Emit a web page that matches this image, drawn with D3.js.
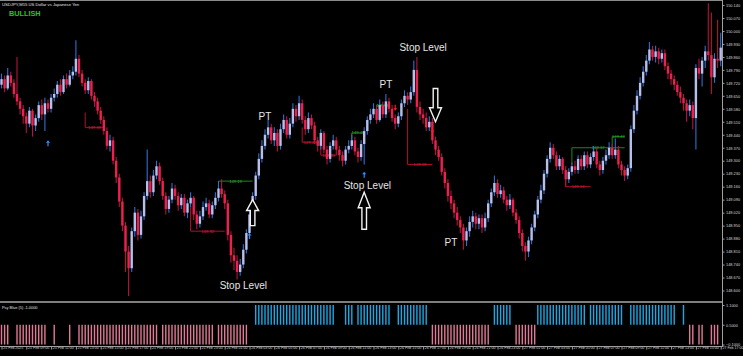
<!DOCTYPE html>
<html>
<head>
<meta charset="utf-8">
<script src="https://cdn.jsdelivr.net/npm/d3@7"></script>
<style>
  body { margin: 0; background: #000; }
  svg { display: block; }
</style>
</head>
<body>
<div id="chart"></div>
<script>
// USDJPY M15 bars, one value per bar
var opens = [
  149.71,149.74,149.69,149.76,149.72,149.66,149.62,149.58, 149.54,149.50,149.57,149.49,149.53,149.60,149.55,149.61,
  149.58,149.64,149.66,149.71,149.67,149.74,149.71,149.76, 149.78,149.85,149.77,149.72,149.68,149.73,149.65,149.62,
  149.57,149.52,149.46,149.38,149.41,149.30,149.21,149.08, 148.95,148.81,148.72,148.92,149.02,148.90,149.00,149.11,
  149.19,149.13,149.22,149.27,149.19,149.11,149.04,149.09, 149.15,149.11,149.06,149.10,149.02,149.07,149.10,149.01,
  148.96,149.00,149.05,149.07,149.01,149.06,149.10,149.15, 149.12,149.07,148.90,148.79,148.76,148.70,148.74,148.82,
  148.91,149.01,149.11,149.22,149.31,149.38,149.44,149.48, 149.41,149.45,149.38,149.47,149.52,149.44,149.50,149.58,
  149.54,149.61,149.52,149.47,149.53,149.49,149.41,149.38, 149.45,149.36,149.31,149.38,149.41,149.36,149.33,149.30,
  149.36,149.38,149.41,149.35,149.32,149.39,149.46,149.52, 149.55,149.58,149.52,149.60,149.55,149.62,149.58,149.53,
  149.50,149.54,149.61,149.65,149.63,149.67,149.79,149.59, 149.55,149.53,149.48,149.51,149.41,149.36,149.32,149.24,
  149.18,149.11,149.07,149.02,148.98,148.94,148.87,148.92, 148.97,149.00,148.96,148.99,148.94,148.99,149.07,149.13,
  149.18,149.12,149.14,149.09,149.06,149.09,149.02,148.98, 148.91,148.84,148.81,148.87,148.94,149.01,149.09,149.14,
  149.23,149.31,149.37,149.33,149.27,149.31,149.25,149.20, 149.24,149.27,149.25,149.31,149.27,149.33,149.28,149.32,
  149.35,149.28,149.25,149.30,149.33,149.37,149.33,149.36, 149.28,149.25,149.22,149.26,149.47,149.57,149.65,149.72,
  149.78,149.84,149.90,149.86,149.89,149.85,149.88,149.81, 149.77,149.74,149.71,149.67,149.64,149.61,149.57,149.60,
  149.53,149.80,149.77,149.84,149.89,149.87,149.75,149.85, 149.84
];
var highs = [
  149.77,149.76,149.80,149.78,149.74,149.86,149.64,149.60, 149.56,149.59,149.58,149.55,149.62,149.63,149.64,149.63,
  149.66,149.69,149.73,149.74,149.76,149.77,149.79,149.81, 149.95,149.87,149.79,149.74,149.75,149.74,149.67,149.64,
  149.59,149.54,149.48,149.44,149.43,149.32,149.23,149.10, 148.97,148.84,148.94,149.05,149.04,149.03,149.13,149.36,
  149.22,149.25,149.30,149.29,149.21,149.13,149.11,149.18, 149.17,149.13,149.12,149.12,149.09,149.13,149.11,149.03,
  149.03,149.08,149.10,149.09,149.08,149.13,149.19,149.20, 149.14,149.09,148.92,148.83,148.79,148.77,148.85,148.93,
  149.03,149.13,149.24,149.34,149.41,149.47,149.52,149.50, 149.48,149.47,149.50,149.55,149.54,149.53,149.61,149.60,
  149.65,149.63,149.54,149.56,149.55,149.51,149.43,149.47, 149.46,149.38,149.40,149.44,149.43,149.38,149.35,149.38,
  149.41,149.44,149.43,149.37,149.41,149.48,149.54,149.58, 149.61,149.60,149.63,149.62,149.66,149.64,149.60,149.55,
  149.56,149.63,149.68,149.67,149.70,149.84,149.86,149.62, 149.58,149.56,149.54,149.53,149.43,149.38,149.34,149.26,
  149.20,149.14,149.09,149.05,149.00,148.96,148.94,149.00, 149.03,149.02,149.01,149.01,149.02,149.09,149.15,149.22,
  149.20,149.17,149.16,149.11,149.12,149.10,149.04,149.00, 148.93,148.86,148.89,148.96,149.03,149.11,149.17,149.25,
  149.33,149.40,149.39,149.35,149.33,149.32,149.27,149.26, 149.29,149.30,149.33,149.33,149.35,149.35,149.34,149.38,
  149.37,149.30,149.32,149.36,149.40,149.39,149.42,149.38, 149.30,149.27,149.28,149.49,149.60,149.68,149.75,149.81,
  149.87,149.94,149.92,149.92,149.91,149.90,149.90,149.83, 149.79,149.76,149.73,149.70,149.66,149.63,149.63,149.62,
  149.82,149.85,149.86,149.92,150.15,150.10,149.88,150.06, 149.99
];
var lows = [
  149.69,149.67,149.68,149.70,149.64,149.60,149.55,149.50, 149.45,149.48,149.43,149.46,149.51,149.52,149.46,149.56,
  149.56,149.62,149.64,149.65,149.66,149.69,149.70,149.74, 149.76,149.75,149.70,149.66,149.66,149.63,149.59,149.55,
  149.50,149.44,149.36,149.35,149.28,149.18,149.05,148.92, 148.70,148.57,148.70,148.89,148.87,148.88,148.98,149.09,
  149.10,149.11,149.20,149.17,149.09,149.01,149.02,149.07, 149.09,149.03,149.04,149.00,148.99,149.05,148.98,148.93,
  148.94,148.98,149.03,148.99,148.99,149.04,149.08,149.10, 149.04,148.87,148.75,148.71,148.66,148.68,148.72,148.80,
  148.88,148.99,149.09,149.20,149.29,149.36,149.42,149.39, 149.38,149.35,149.36,149.45,149.42,149.42,149.48,149.51,
  149.52,149.50,149.44,149.45,149.47,149.39,149.35,149.36, 149.34,149.28,149.29,149.36,149.33,149.30,149.27,149.28,
  149.34,149.36,149.33,149.29,149.30,149.28,149.44,149.50, 149.53,149.50,149.51,149.53,149.53,149.56,149.51,149.47,
  149.48,149.52,149.59,149.60,149.61,149.65,149.56,149.52, 149.50,149.46,149.46,149.39,149.33,149.30,149.22,149.15,
  149.08,149.04,148.99,148.95,148.91,148.82,148.84,148.89, 148.94,148.93,148.93,148.91,148.92,148.97,149.05,149.11,
  149.10,149.10,149.07,149.03,149.04,149.00,148.96,148.88, 148.81,148.76,148.78,148.85,148.92,148.99,149.07,149.12,
  149.21,149.29,149.31,149.25,149.25,149.23,149.16,149.18, 149.22,149.23,149.23,149.25,149.25,149.26,149.26,149.30,
  149.26,149.22,149.23,149.28,149.31,149.31,149.31,149.26, 149.22,149.19,149.20,149.24,149.45,149.55,149.63,149.70,
  149.76,149.82,149.84,149.83,149.82,149.83,149.79,149.74, 149.71,149.68,149.65,149.61,149.57,149.51,149.54,149.47,
  149.36,149.74,149.70,149.80,149.84,149.66,149.72,149.80, 149.81
];
var closes = [
  149.74,149.69,149.76,149.72,149.66,149.62,149.58,149.54, 149.50,149.57,149.49,149.53,149.60,149.55,149.61,149.58,
  149.64,149.66,149.71,149.67,149.74,149.71,149.76,149.78, 149.85,149.77,149.72,149.68,149.73,149.65,149.62,149.57,
  149.52,149.46,149.38,149.41,149.30,149.21,149.08,148.95, 148.81,148.72,148.92,149.02,148.90,149.00,149.11,149.19,
  149.13,149.22,149.27,149.19,149.11,149.04,149.09,149.15, 149.11,149.06,149.10,149.02,149.07,149.10,149.01,148.96,
  149.00,149.05,149.07,149.01,149.06,149.10,149.15,149.12, 149.07,148.90,148.79,148.76,148.70,148.74,148.82,148.91,
  149.01,149.11,149.22,149.31,149.38,149.44,149.48,149.41, 149.45,149.38,149.47,149.52,149.44,149.50,149.58,149.54,
  149.61,149.52,149.47,149.53,149.49,149.41,149.38,149.45, 149.36,149.31,149.38,149.41,149.36,149.33,149.30,149.36,
  149.38,149.41,149.35,149.32,149.39,149.46,149.52,149.55, 149.58,149.52,149.60,149.55,149.62,149.58,149.53,149.50,
  149.54,149.61,149.65,149.63,149.67,149.79,149.59,149.55, 149.53,149.48,149.51,149.41,149.36,149.32,149.24,149.18,
  149.11,149.07,149.02,148.98,148.94,148.87,148.92,148.97, 149.00,148.96,148.99,148.94,148.99,149.07,149.13,149.18,
  149.12,149.14,149.09,149.06,149.09,149.02,148.98,148.91, 148.84,148.81,148.87,148.94,149.01,149.09,149.14,149.23,
  149.31,149.37,149.33,149.27,149.31,149.25,149.20,149.24, 149.27,149.25,149.31,149.27,149.33,149.28,149.32,149.35,
  149.28,149.25,149.30,149.33,149.37,149.33,149.36,149.28, 149.25,149.22,149.26,149.47,149.57,149.65,149.72,149.78,
  149.84,149.90,149.86,149.89,149.85,149.88,149.81,149.77, 149.74,149.71,149.67,149.64,149.61,149.57,149.60,149.53,
  149.80,149.77,149.84,149.89,149.87,149.75,149.85,149.84, 149.91
];

// indicator runs: [first bar, last bar, signal]  1 = blue, -1 = pink
var signalRuns = [
  [0,2,-1],[5,14,-1],[17,17,-1],[22,22,-1],[25,50,-1],[52,68,-1],[70,79,-1],
  [82,107,1],[111,113,1],[115,125,1],[128,137,1],
  [139,157,-1],[159,164,1],[166,172,-1],
  [173,188,1],[190,200,1],[203,217,1],[220,220,1],
  [222,223,-1],[225,226,-1],[229,231,-1]
];

// price ticks on the right axis and time labels on the bottom axis
var priceTicks = [148.60,148.67,148.74,148.81,148.88,148.95,149.02,149.09,149.16,149.23,149.30,149.37,
  149.44,149.51,149.58,149.65,149.72,149.79,149.86,149.93,150.00,150.07,150.14];
var indTicks = [1.1, 0.5, -0.1];
var timeBars = [0,8,16,24,32,40,48,56,64,72,80,88,96,104,112,120,128,136,144,152,160,168,176,184,192,200,208,216,224,232];
var timeLabels = ["25 Feb 2025","25 Feb 09:00","25 Feb 11:00","25 Feb 13:00","25 Feb 15:00","25 Feb 17:00",
  "25 Feb 19:00","25 Feb 21:00","25 Feb 23:00","26 Feb 01:00","26 Feb 03:00","26 Feb 05:00","26 Feb 07:00",
  "26 Feb 09:00","26 Feb 11:00","26 Feb 13:00","26 Feb 15:00","26 Feb 17:00","26 Feb 19:00","26 Feb 21:00",
  "26 Feb 23:00","27 Feb 01:00","27 Feb 03:00","27 Feb 05:00","27 Feb 07:00","27 Feb 09:00","27 Feb 11:00",
  "27 Feb 13:00","27 Feb 15:00","27 Feb 17:00"];

// support / resistance boxes: [from bar, to bar, level, price where the side line starts, kind]
var levels = [
  [27,33,149.48,149.56,"res"],
  [61,72,148.92,149.10,"res"],
  [70,81,149.19,149.12,"sup"],
  [97,102,149.40,149.48,"res"],
  [103,108,149.33,149.43,"res"],
  [113,117,149.45,149.38,"sup"],
  [121,125,149.60,149.55,"sup"],
  [131,139,149.28,149.58,"res"],
  [182,190,149.16,149.25,"res"],
  [184,201,149.37,149.28,"sup"],
  [197,201,149.43,149.37,"sup"]
];

// small signal arrows: [bar, price, dir]
var signalArrows = [[15,149.41,1],[80,148.91,1],[117,149.24,1],[127,149.57,-1],[139,149.45,-1]];

// big hand-drawn arrows: [bar, tail price, tip price]
var bigArrows = [[81,148.95,149.09],[117,148.93,149.13],[140,149.69,149.51]];

// text notes: [bar, price, text]
var notes = [[85,149.52,"PT"],[78,148.61,"Stop Level"],[124,149.69,"PT"],
  [136,149.89,"Stop Level"],[118,149.15,"Stop Level"],[145,148.84,"PT"]];

var svgWidth = 743;
var svgHeight = 356;
var axisX = 722;
var mainBottom = 302;
var indTop = 302, indBottom = 346;

var svg = d3.select("#chart").append("svg")
    .attr("width", svgWidth)
    .attr("height", svgHeight)
    .style("background", "#000");

var x = d3.scaleLinear().domain([0, 232]).range([1.5, 720.7]);
var y = d3.scaleLinear().domain([148.60, 150.14]).range([290.5, 5]);
var yi = d3.scaleLinear().domain([-0.1, 1.1]).range([344.5, 305]);

var bars = closes.map(function(c, i) {
  return {i: i, o: opens[i], h: highs[i], l: lows[i], c: c};
});

var smallFont = "Liberation Sans, Arial, sans-serif";

// main panel clip
svg.append("clipPath").attr("id", "mainClip")
  .append("rect").attr("x", 0).attr("y", 0).attr("width", axisX).attr("height", mainBottom);

var main = svg.append("g").attr("clip-path", "url(#mainClip)");

// level boxes
var lv = main.selectAll("g.level").data(levels).enter().append("g").attr("class", "level");
lv.append("path")
  .attr("d", function(d) {
    return "M" + x(d[0]) + "," + y(d[3]) + "V" + y(d[2]) + "H" + x(d[1]);
  })
  .attr("fill", "none")
  .attr("stroke", function(d) { return d[4] == "res" ? "#b3102a" : "#1d8a1d"; })
  .attr("stroke-width", 1);
lv.append("text")
  .attr("x", function(d) { return (x(d[0]) + x(d[1])) / 2; })
  .attr("y", function(d) { return y(d[2]) + 1.5; })
  .attr("text-anchor", "middle")
  .attr("font-family", smallFont)
  .attr("font-size", 4.2)
  .attr("fill", function(d) { return d[4] == "res" ? "#d0203a" : "#2aa82a"; })
  .text(function(d) { return d[2].toFixed(2); });

// wicks
main.selectAll("line.wick").data(bars).enter().append("line")
  .attr("x1", d => x(d.i)).attr("x2", d => x(d.i))
  .attr("y1", d => y(d.h)).attr("y2", d => y(d.l))
  .attr("stroke", d => d.c >= d.o ? "#2f6fd0" : "#b2143c")
  .attr("stroke-width", 1.1);

// bodies
main.selectAll("rect.body").data(bars).enter().append("rect")
  .attr("x", d => x(d.i) - 1.2)
  .attr("width", 2.4)
  .attr("y", d => y(Math.max(d.o, d.c)))
  .attr("height", d => Math.max(1, Math.abs(y(d.o) - y(d.c))))
  .attr("fill", d => d.c >= d.o ? "#b6c0ec" : "#ee2050");

// small signal arrows
main.selectAll("path.sig").data(signalArrows).enter().append("path")
  .attr("d", function(d) {
    var cx = x(d[0]), cy = y(d[1]), s = d[2];
    // tip at cy, pointing up (s=1) or down (s=-1)
    return "M" + cx + "," + cy + "L" + (cx + 2) + "," + (cy + 2.5 * s) + "L" + (cx + 0.6) + "," + (cy + 2.5 * s) +
      "L" + (cx + 0.6) + "," + (cy + 6 * s) + "L" + (cx - 0.6) + "," + (cy + 6 * s) + "L" + (cx - 0.6) + "," + (cy + 2.5 * s) +
      "L" + (cx - 2) + "," + (cy + 2.5 * s) + "Z";
  })
  .attr("fill", d => d[2] > 0 ? "#2f8fff" : "#ff1a1a");

// big outline arrows
main.selectAll("path.big").data(bigArrows).enter().append("path")
  .attr("d", function(d) {
    var cx = x(d[0]), tail = y(d[1]), tip = y(d[2]);
    var dir = tip < tail ? 1 : -1;
    var len = Math.abs(tail - tip);
    var hh = len * 0.42, hw = 6, sw = 2.3;
    var neck = tip + hh * dir;
    return "M" + cx + "," + tip + "L" + (cx + hw) + "," + neck + "L" + (cx + sw) + "," + neck +
      "L" + (cx + sw) + "," + tail + "L" + (cx - sw) + "," + tail + "L" + (cx - sw) + "," + neck +
      "L" + (cx - hw) + "," + neck + "Z";
  })
  .attr("fill", "#000")
  .attr("stroke", "#f2f2f2")
  .attr("stroke-width", 1.4);

// notes
main.selectAll("text.note").data(notes).enter().append("text")
  .attr("x", d => x(d[0]))
  .attr("y", d => y(d[1]))
  .attr("text-anchor", "middle")
  .attr("font-family", "Liberation Sans, Arial, sans-serif")
  .attr("font-size", 10)
  .attr("fill", "#e6e6e6")
  .text(d => d[2]);

// title and trend label
svg.append("text").attr("x", 2).attr("y", 6)
  .attr("font-family", smallFont).attr("font-size", 4.2).attr("fill", "#e0e0e0")
  .text("USDJPY,M15  US Dollar vs Japanese Yen");
svg.append("text").attr("x", 9).attr("y", 16)
  .attr("font-family", smallFont).attr("font-size", 7.3).attr("font-weight", "bold")
  .attr("fill", "#1ec81e")
  .text("BULLISH");

// indicator panel
var indBars = [];
signalRuns.forEach(function(r) {
  for (var i = r[0]; i <= r[1]; i++) indBars.push({i: i, s: r[2]});
});
svg.selectAll("rect.ind").data(indBars).enter().append("rect")
  .attr("x", d => x(d.i) - 0.7)
  .attr("width", 1.4)
  .attr("y", d => d.s > 0 ? yi(1.1) : yi(0.5))
  .attr("height", d => d.s > 0 ? yi(0.5) - yi(1.1) : yi(-0.1) - yi(0.5))
  .attr("fill", d => d.s > 0 ? "#19a9e3" : "#e27796");

svg.append("text").attr("x", 2).attr("y", 309)
  .attr("font-family", smallFont).attr("font-size", 3.9).attr("fill", "#e0e0e0")
  .text("Psy Blue (5) -1.0000");

// frame lines
svg.append("line").attr("x1", 0).attr("x2", axisX).attr("y1", 0.5).attr("y2", 0.5)
  .attr("stroke", "#8a8a8a").attr("stroke-width", 1);
svg.append("line").attr("x1", 0).attr("x2", axisX + 0.5).attr("y1", mainBottom).attr("y2", mainBottom)
  .attr("stroke", "#a8a8a8").attr("stroke-width", 1.6);

// right price axis
var rightAxis = d3.axisRight(y).tickValues(priceTicks).tickFormat(d3.format(".3f")).tickSize(2.5).tickPadding(1.5);
var ra = svg.append("g").attr("transform", "translate(" + axisX + ",0)").call(rightAxis);
ra.select(".domain").remove();

var indAxis = d3.axisRight(yi).tickValues(indTicks).tickFormat(d3.format(".4f")).tickSize(2.5).tickPadding(1.5);
var ia = svg.append("g").attr("transform", "translate(" + axisX + ",0)").call(indAxis);
ia.select(".domain").remove();

svg.append("line").attr("x1", axisX + 0.5).attr("x2", axisX + 0.5).attr("y1", 0).attr("y2", indBottom)
  .attr("stroke", "#a0a0a0").attr("stroke-width", 1);

// bottom time axis
var bottomAxis = d3.axisBottom(x).tickValues(timeBars)
  .tickFormat(function(d, i) { return timeLabels[i]; })
  .tickSize(3.5).tickPadding(0);
var ba = svg.append("g").attr("transform", "translate(0," + indBottom + ")").call(bottomAxis);
ba.select(".domain").remove();

svg.append("line").attr("x1", 0).attr("x2", axisX + 1).attr("y1", indBottom + 0.5).attr("y2", indBottom + 0.5)
  .attr("stroke", "#a0a0a0").attr("stroke-width", 1);

[ra, ia, ba].forEach(function(g) {
  g.selectAll("text").attr("font-family", smallFont).attr("font-size", 3.9).attr("fill", "#d8d8d8");
  g.selectAll("line").attr("stroke", "#a0a0a0");
});
ba.selectAll("text").attr("text-anchor", "start").attr("dx", 1.2).attr("dy", "-0.05em").attr("font-size", 3.6);
</script>
</body>
</html>
